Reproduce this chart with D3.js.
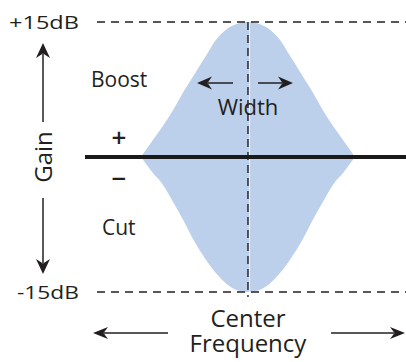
<!DOCTYPE html>
<html>
<head>
<meta charset="utf-8">
<script src="https://cdn.jsdelivr.net/npm/d3@7"></script>
<style>
  html, body { margin: 0; padding: 0; background: #fff; }
  svg { display: block; }
  text { font-family: "Open Sans", "Noto Sans", sans-serif; fill: #231f20; }
</style>
</head>
<body>
<svg id="chart" width="406" height="362"></svg>
<script>
// ---- data ----
// relative frequency position (center = 0, edges of the bell = ±1)
const freqPos = [-1, -0.9, -0.8, -0.7, -0.6, -0.5, -0.4, -0.3, -0.2, -0.1, 0,
                 0.1, 0.2, 0.3, 0.4, 0.5, 0.6, 0.7, 0.8, 0.9, 1];
// boost curve (dB)
const boostDb = [0, 1.7, 3.35, 5.2, 7.3, 9.2, 11.1, 13.0, 14.2, 14.8, 15,
                 14.8, 14.2, 13.0, 11.1, 9.2, 7.3, 5.2, 3.35, 1.7, 0];
// cut curve (dB)
const cutDb = [0, -1.6, -3.0, -5.0, -7.1, -9.4, -11.3, -12.9, -14.1, -14.8, -15,
               -14.8, -14.1, -12.9, -11.3, -9.4, -7.1, -5.0, -3.0, -1.6, 0];
const gainTicks = [15, -15];
const gainTickLabels = ["+15dB", "-15dB"];
const axisTitle = "Gain";
const freqTitle = ["Center", "Frequency"];
const regionLabels = ["Boost", "Cut"];
const widthLabel = "Width";

// ---- scales ----
const svg = d3.select("#chart");
const x = d3.scaleLinear().domain([-1.523, 1.477]).range([85, 406]);
const y = d3.scaleLinear().domain([-15, 15]).range([292, 22]);
const ink = "#231f20";

// ---- bell area ----
const pts = freqPos.map((f, i) => ({ f, hi: boostDb[i], lo: cutDb[i] }));
const area = d3.area()
  .x(d => x(d.f))
  .y0(d => y(d.lo))
  .y1(d => y(d.hi))
  .curve(d3.curveMonotoneX);
svg.append("path").datum(pts).attr("d", area).attr("fill", "#bdd0eb");

// ---- dashed reference lines ----
gainTicks.forEach(t => {
  svg.append("line")
    .attr("x1", 97).attr("x2", x.range()[1])
    .attr("y1", y(t)).attr("y2", y(t))
    .attr("stroke", ink).attr("stroke-width", 1.4)
    .attr("stroke-dasharray", "8,6");
});
// light halo beside the center line
svg.append("line")
  .attr("x1", x(0) + 1.6).attr("x2", x(0) + 1.6)
  .attr("y1", y(15)).attr("y2", y(-15))
  .attr("stroke", "#ffffff").attr("stroke-width", 1).attr("opacity", 0.7);
svg.append("line")
  .attr("x1", x(0)).attr("x2", x(0))
  .attr("y1", y(15)).attr("y2", y(-15) + 5)
  .attr("stroke", ink).attr("stroke-width", 1.4)
  .attr("stroke-dasharray", "8,5");

// ---- zero line ----
svg.append("line")
  .attr("x1", x.range()[0]).attr("x2", x.range()[1])
  .attr("y1", y(0)).attr("y2", y(0))
  .attr("stroke", "#1a1a1a").attr("stroke-width", 4);

// ---- arrows ----
function arrow(x1, y1, x2, y2, len, half) {
  const ang = Math.atan2(y2 - y1, x2 - x1) * 180 / Math.PI;
  const dx = Math.cos(ang * Math.PI / 180), dy = Math.sin(ang * Math.PI / 180);
  svg.append("line")
    .attr("x1", x1).attr("y1", y1)
    .attr("x2", x2 - dx * (len - 4)).attr("y2", y2 - dy * (len - 4))
    .attr("stroke", ink).attr("stroke-width", 1.5);
  svg.append("path")
    .attr("d", `M0,0 L${-len},${-half} L${-len + 4.5},0 L${-len},${half} Z`)
    .attr("transform", `translate(${x2},${y2}) rotate(${ang})`)
    .attr("fill", ink);
}
// gain arrows
arrow(43, 122, 43, 43, 15, 7);
arrow(43, 198, 43, 274, 15, 7);
// width arrows
arrow(233, 83, 197, 83, 15, 6.5);
arrow(258, 83, 293, 83, 15, 6.5);
// frequency arrows
arrow(168, 333, 93, 333, 15, 6);
arrow(331, 333, 405, 333, 15, 6);

// ---- texts ----
svg.append("text").attr("x", 9).attr("y", y(gainTicks[0]) + 6.5)
  .attr("font-size", 18).attr("textLength", 70).attr("lengthAdjust", "spacingAndGlyphs")
  .text(gainTickLabels[0]);
svg.append("text").attr("x", 17).attr("y", y(gainTicks[1]) + 6.5)
  .attr("font-size", 18).attr("textLength", 62).attr("lengthAdjust", "spacingAndGlyphs")
  .text(gainTickLabels[1]);

svg.append("text").attr("x", 91).attr("y", 87).attr("font-size", 21).text(regionLabels[0]);
svg.append("text").attr("x", 102).attr("y", 235).attr("font-size", 21).text(regionLabels[1]);
svg.append("text").attr("x", x(0)).attr("y", 115).attr("text-anchor", "middle")
  .attr("font-size", 22).text(widthLabel);

svg.append("text").attr("x", 119).attr("y", 147).attr("text-anchor", "middle")
  .attr("font-size", 26).attr("font-weight", 600).text("+");
svg.append("text").attr("x", 119).attr("y", 188).attr("text-anchor", "middle")
  .attr("font-size", 26).attr("font-weight", 600).text("\u2212");

svg.append("text")
  .attr("transform", `translate(52,${y(0)}) rotate(-90)`)
  .attr("text-anchor", "middle").attr("font-size", 24).text(axisTitle);

const ft = svg.append("text").attr("text-anchor", "middle").attr("font-size", 24);
ft.append("tspan").attr("x", x(0)).attr("y", 327).text(freqTitle[0]);
ft.append("tspan").attr("x", x(0)).attr("y", 352).text(freqTitle[1]);
</script>
</body>
</html>
